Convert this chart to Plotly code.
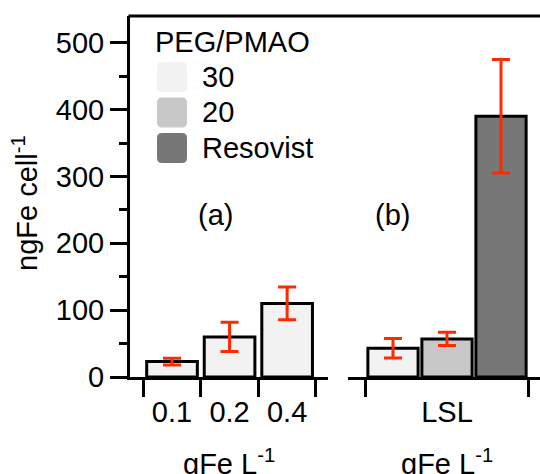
import plotly.graph_objects as go

# ---- data ----
conc_labels = ["0.1", "0.2", "0.4"]
conc_values = [23, 60, 110]
conc_errors = [5, 22, 24.5]

lsl_label = ["LSL"]
series_names = ["30", "20", "Resovist"]
lsl_values = [43, 57, 390]
lsl_errors = [14.5, 10, 85]

legend_title = "PEG/PMAO"
colors = ["#f2f2f2", "#c8c8c8", "#777777"]
err_color = "#ff2a00"

W, H = 540, 474
FONT = dict(family="Liberation Sans, Arial, sans-serif", size=29, color="black")

def px(x):
    return x / W

def py(y):
    return 1 - y / H

fig = go.Figure()

# left panel
fig.add_trace(go.Bar(
    x=conc_labels, y=conc_values, xaxis="x", yaxis="y",
    width=0.88,
    marker=dict(color=colors[0], line=dict(color="black", width=3)),
    error_y=dict(type="data", array=conc_errors, color=err_color, thickness=3, width=9),
    showlegend=False, hoverinfo="skip",
))

# right panel
for name, val, err, col in zip(series_names, lsl_values, lsl_errors, colors):
    fig.add_trace(go.Bar(
        x=lsl_label, y=[val], xaxis="x2", yaxis="y", name=name,
        offsetgroup=name,
        marker=dict(color=col, line=dict(color="black", width=3)),
        error_y=dict(type="data", array=[err], color=err_color, thickness=3, width=9),
        showlegend=False, hoverinfo="skip",
    ))

ydom = [py(377), py(16)]

axis_common = dict(
    type="category", tickson="boundaries", ticks="outside", ticklen=17,
    tickwidth=3, tickcolor="black", showline=True, linewidth=3, linecolor="black",
    showgrid=False, zeroline=False, automargin=False, tickfont=FONT,
    fixedrange=True, ticklabelstandoff=7,
)

fig.update_layout(
    width=W, height=H,
    margin=dict(l=0, r=0, t=0, b=0),
    paper_bgcolor="white", plot_bgcolor="white",
    font=FONT,
    barmode="group", bargap=0, bargroupgap=0.07,
    showlegend=False,
    xaxis=dict(domain=[px(130), px(328)], anchor="y",
               categoryorder="array", categoryarray=conc_labels,
               range=[-0.73, 2.71], **axis_common),
    xaxis2=dict(domain=[px(348), 1], anchor="y",
                range=[-0.611, 0.574], **axis_common),
    yaxis=dict(domain=ydom, anchor="x", range=[0, 540],
               tickvals=[0, 100, 200, 300, 400, 500],
               ticks="outside", ticklen=17, tickwidth=3, tickcolor="black",
               showline=True, linewidth=3, linecolor="black",
               minor=dict(dtick=50, ticks="outside", ticklen=8, tickwidth=3, tickcolor="black"),
               showgrid=False, zeroline=False, automargin=False, tickfont=FONT,
               fixedrange=True),
)

# top frame line
fig.add_shape(type="line", xref="paper", yref="paper",
              x0=px(128.5), x1=1, y0=ydom[1], y1=ydom[1],
              line=dict(color="black", width=3))

annotations = []
# axis titles
annotations.append(dict(text="ngFe cell<sup>-1</sup>", x=px(25), y=py(203), xref="paper", yref="paper",
                        textangle=-90, showarrow=False, font=FONT, xanchor="center", yanchor="middle"))
for cx in (229, 447):
    annotations.append(dict(text="gFe L<sup>-1</sup>", x=px(cx), y=py(462), xref="paper", yref="paper",
                            showarrow=False, font=FONT, xanchor="center", yanchor="middle"))
# panel labels
annotations.append(dict(text="(a)", x=px(215), y=py(215), xref="paper", yref="paper",
                        showarrow=False, font=FONT))
annotations.append(dict(text="(b)", x=px(412), y=py(215), xref="paper", yref="paper",
                        showarrow=False, font=FONT))
# manual legend
annotations.append(dict(text=legend_title, x=px(153), y=py(42), xref="paper", yref="paper",
                        showarrow=False, font=FONT, xanchor="left", yanchor="middle"))
sw_tops = [62, 97.5, 133]
for name, col, top in zip(series_names, colors, sw_tops):
    x0, x1, y0, y1 = 157, 187, top, top + 30
    r = 5
    path = (f"M {px(x0 + r)},{py(y0)} L {px(x1 - r)},{py(y0)} "
            f"Q {px(x1)},{py(y0)} {px(x1)},{py(y0 + r)} L {px(x1)},{py(y1 - r)} "
            f"Q {px(x1)},{py(y1)} {px(x1 - r)},{py(y1)} L {px(x0 + r)},{py(y1)} "
            f"Q {px(x0)},{py(y1)} {px(x0)},{py(y1 - r)} L {px(x0)},{py(y0 + r)} "
            f"Q {px(x0)},{py(y0)} {px(x0 + r)},{py(y0)} Z")
    fig.add_shape(type="path", xref="paper", yref="paper", path=path,
                  fillcolor=col, line=dict(width=0))
    annotations.append(dict(text=name, x=px(200), y=py(top + 15), xref="paper", yref="paper",
                            showarrow=False, font=FONT, xanchor="left", yanchor="middle"))

fig.update_layout(annotations=annotations)

fig.write_html("out.html", config={"displayModeBar": False},
               post_script="document.body.style.margin='0';")
